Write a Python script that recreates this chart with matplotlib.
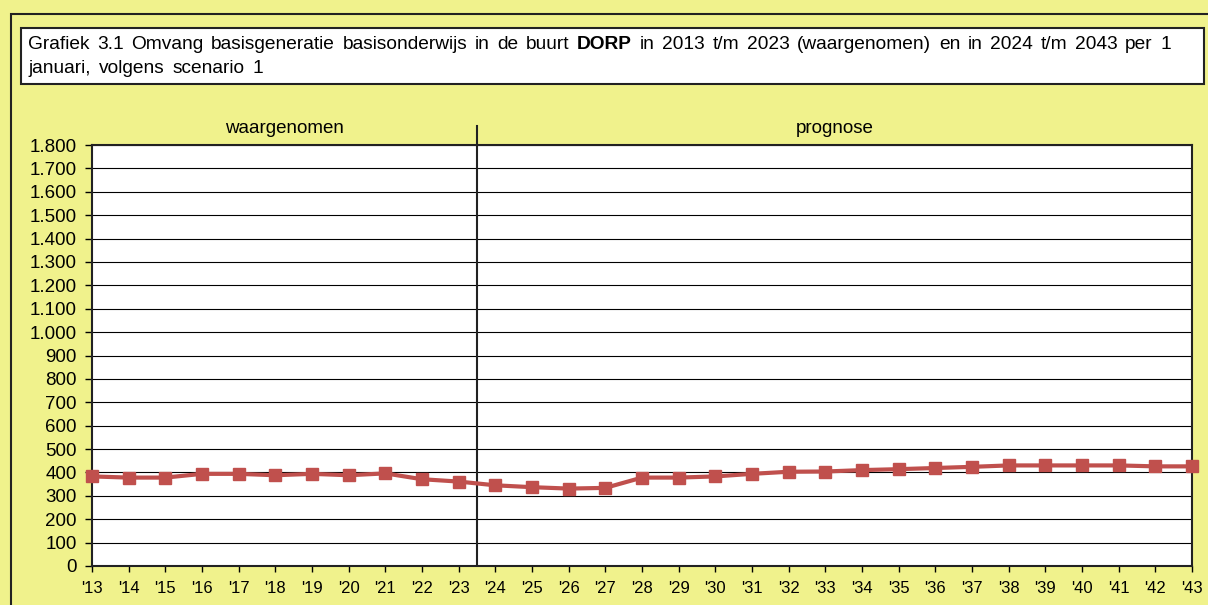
import matplotlib
matplotlib.use("Agg")
import matplotlib.pyplot as plt
from matplotlib import font_manager
from matplotlib.patches import Rectangle
from matplotlib.ticker import FuncFormatter, MultipleLocator

years = list(range(2013, 2044))
tick_labels = ["'%02d" % (y % 100) for y in years]
values = [383, 378, 378, 394, 394, 388, 394, 388, 396, 371, 361,
          345, 337, 331, 334, 378, 378, 383, 394, 403, 404, 410, 414,
          419, 424, 430, 430, 430, 430, 426, 426]
split_year = 2023.5
period_labels = ["waargenomen", "prognose"]
title_line1 = [
    ("Grafiek 3.1 Omvang basisgeneratie basisonderwijs in de buurt", "normal"),
    ("DORP", "bold"),
    ("in 2013 t/m 2023 (waargenomen) en in 2024 t/m 2043 per 1", "normal"),
]
title_line2 = [("januari, volgens scenario 1", "normal")]

names = {f.name for f in font_manager.fontManager.ttflist}
base = "Liberation Sans" if "Liberation Sans" in names else "DejaVu Sans"
narrow = "Liberation Sans Narrow" if "Liberation Sans Narrow" in names else base
plt.rcParams['font.family'] = [base, 'DejaVu Sans']

W, H = 1208, 605
fig = plt.figure(figsize=(W / 100, H / 100), dpi=100)
bg = '#F0F28C'
fig.patch.set_facecolor(bg)

def fx(px):
    return px / W

def fy(py):
    return 1 - py / H

# outer frame
fig.patches.append(Rectangle((fx(11), fy(620)), fx(1220) - fx(11), fy(14) - fy(620),
                             transform=fig.transFigure, fill=False, ec='#222222', lw=1.5))
# title box
fig.patches.append(Rectangle((fx(21), fy(84)), fx(1204) - fx(21), fy(28) - fy(84),
                             transform=fig.transFigure, fc='white', ec='#222222', lw=1.5))

ax = fig.add_axes([fx(92), fy(566), fx(1192) - fx(92), fy(145) - fy(566)])
ax.set_facecolor('white')
ax.plot(years, values, color='#C0504D', lw=3, marker='s', markersize=8.5,
        markerfacecolor='#C0504D', markeredgecolor='#C0504D', clip_on=False, zorder=5)
ax.set_xlim(2013, 2043)
ax.set_ylim(0, 1800)
ax.yaxis.set_major_locator(MultipleLocator(100))
ax.yaxis.set_major_formatter(FuncFormatter(lambda v, p: f"{int(v):,}".replace(",", ".")))
ax.set_xticks(years)
ax.set_xticklabels(tick_labels, fontfamily=narrow)
ax.grid(axis='y', color='black', lw=0.8)
ax.set_axisbelow(True)
for s in ax.spines.values():
    s.set_linewidth(1.5)
    s.set_color('#222222')
ax.tick_params(axis='y', labelsize=13.5, length=5, width=1, direction='out', pad=6)
ax.tick_params(axis='x', labelsize=12, length=4, width=1, direction='out', pad=7)

# divider
ax.axvline(split_year, color='#222222', lw=1.5, zorder=4)
ax.plot([split_year, split_year], [1800, 1880], color='#222222', lw=1.5, clip_on=False)

ax.text(2018.25, 1851, period_labels[0], ha='center', va='baseline', fontsize=13.5)
ax.text(2033.25, 1851, period_labels[1], ha='center', va='baseline', fontsize=13.5)

# justified title lines with a bold piece
renderer = fig.canvas.get_renderer()
FS = 13.8

def draw_line(parts, x0, x1, ybase):
    words = []
    for txt, wt in parts:
        for w in txt.split(" "):
            words.append((w, wt))
    items = []
    total = 0
    for w, wt in words:
        t = fig.text(0, fy(ybase), w, fontsize=FS, fontweight=wt, ha='left', va='baseline')
        wpx = t.get_window_extent(renderer=renderer).width
        items.append((t, wpx))
        total += wpx
    gap = (x1 - x0 - total) / max(len(items) - 1, 1)
    x = x0
    for t, wpx in items:
        t.set_x(fx(x))
        x += wpx + gap

draw_line(title_line1, 28, 1171, 49)
draw_line(title_line2, 28, 263, 73)

fig.savefig("out.png", dpi=100, facecolor=bg)
